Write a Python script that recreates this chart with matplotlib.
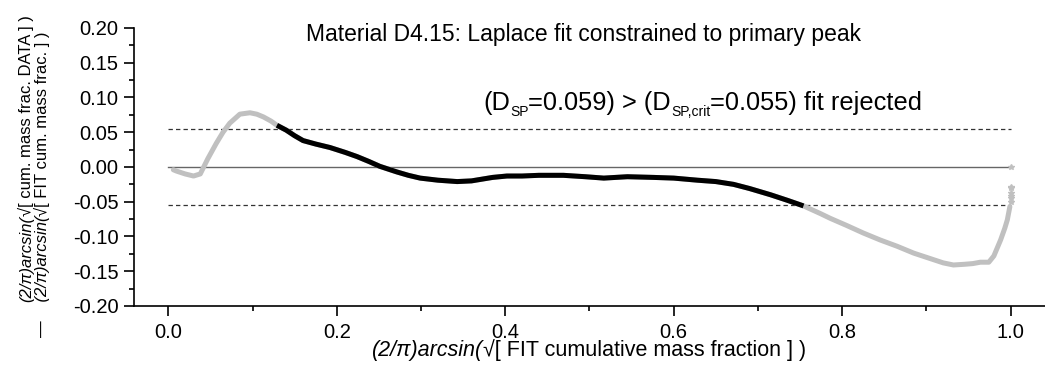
import numpy as np
import matplotlib
matplotlib.use('Agg')
import matplotlib.pyplot as plt
from matplotlib.ticker import MultipleLocator, FormatStrFormatter

# Data: residual curve along the x axis
x_res = [0.006, 0.010, 0.020, 0.030, 0.038, 0.047, 0.057, 0.065, 0.073, 0.085,
         0.097, 0.105, 0.113, 0.122, 0.129, 0.140, 0.150, 0.160, 0.175, 0.192,
         0.210, 0.224, 0.238, 0.251, 0.271, 0.285, 0.299, 0.320, 0.343, 0.360,
         0.370, 0.385, 0.402, 0.420, 0.440, 0.469, 0.495, 0.517, 0.545, 0.576,
         0.600, 0.628, 0.650, 0.671, 0.690, 0.715, 0.735, 0.754, 0.774, 0.786,
         0.805, 0.825, 0.845, 0.865, 0.885, 0.905, 0.920, 0.932, 0.945, 0.955,
         0.964, 0.974, 0.980, 0.988, 0.993, 0.996, 0.999]
y_res = [-0.004, -0.006, -0.010, -0.013, -0.010, 0.012, 0.034, 0.050, 0.063, 0.076,
         0.078, 0.076, 0.072, 0.066, 0.060, 0.053, 0.045, 0.038, 0.033, 0.028,
         0.021, 0.015, 0.008, 0.001, -0.007, -0.012, -0.016, -0.019, -0.021, -0.020,
         -0.018, -0.015, -0.013, -0.013, -0.012, -0.012, -0.014, -0.016, -0.014, -0.015,
         -0.016, -0.019, -0.021, -0.025, -0.031, -0.040, -0.048, -0.056, -0.067, -0.074,
         -0.084, -0.095, -0.105, -0.114, -0.124, -0.132, -0.138, -0.141, -0.140, -0.139,
         -0.137, -0.137, -0.128, -0.105, -0.088, -0.076, -0.057]
# loose points at the upper end
x_end = [1.0, 1.0, 1.0, 1.0, 1.0, 1.0, 1.0]
y_end = [-0.051, -0.045, -0.042, -0.038, -0.030, -0.029, 0.0]

fit_lo, fit_hi = 0.129, 0.754
d_crit = 0.055
d_sp = 0.059

plt.rcParams['font.family'] = 'Liberation Sans'

W, H = 1045, 370
fig = plt.figure(figsize=[W / 100, H / 100], dpi=100)
ax = fig.add_axes([0.1282, 0.1730, 0.8718, 0.7514])

x_res = np.array(x_res)
y_res = np.array(y_res)
fit = (x_res >= fit_lo) & (x_res <= fit_hi)

ax.plot([0, 1], [0, 0], color='#666666', lw=1.0, zorder=1)
ax.plot([0, 1], [d_crit, d_crit], color='#333333', lw=0.9, ls=(0, (3.5, 2.5)), zorder=1)
ax.plot([0, 1], [-d_crit, -d_crit], color='#333333', lw=0.9, ls=(0, (3.5, 2.5)), zorder=1)

ax.plot(x_res, y_res, color='#c0c0c0', lw=3.6, solid_capstyle='round', zorder=2)
ax.plot(x_end, y_end, ls='none', marker='*', ms=4, color='#c0c0c0', zorder=2)
ax.plot(x_res[fit], y_res[fit], color='black', lw=3.6, solid_capstyle='butt', zorder=3)

ax.set_xlim(-0.0407, 1.0407)
ax.set_ylim(-0.20, 0.20)
ax.spines['top'].set_visible(False)
ax.spines['right'].set_visible(False)
ax.spines['left'].set_linewidth(1.2)
ax.spines['bottom'].set_linewidth(1.2)
ax.xaxis.set_major_locator(MultipleLocator(0.2))
ax.xaxis.set_minor_locator(MultipleLocator(0.1))
ax.yaxis.set_major_locator(MultipleLocator(0.05))
ax.yaxis.set_minor_locator(MultipleLocator(0.025))
ax.xaxis.set_major_formatter(FormatStrFormatter('%.1f'))
ax.yaxis.set_major_formatter(FormatStrFormatter('%.2f'))
ax.tick_params(which='major', direction='out', length=7, width=1.2, labelsize=14.5)
ax.tick_params(which='minor', direction='out', length=3.5, width=1.2)
ax.tick_params(axis='x', pad=5)
ax.tick_params(axis='y', pad=4)

renderer = fig.canvas.get_renderer()


def seg_text(x0, y0, segs, vertical=False, align='left'):
    # draw a run of text pieces (text, size, style, dy) one after another,
    # x0/y0 in pixels from the top-left corner, at the baseline
    texts = []
    widths = []
    for s, size, style, dy in segs:
        t = fig.text(0, 0, s, fontsize=size, fontstyle=style,
                     ha='left', va='baseline', rotation_mode='anchor')
        widths.append(t.get_window_extent(renderer).width)
        t.set_rotation(90 if vertical else 0)
        texts.append((t, dy))
    total = sum(widths)
    start = {'left': 0, 'center': -total / 2, 'right': -total}[align]
    pos = start
    for (t, dy), w in zip(texts, widths):
        if vertical:
            # text runs upwards, baseline on the right side
            t.set_position(((x0 + dy) / W, (H - y0 + pos) / H))
        else:
            t.set_position(((x0 + pos) / W, (H - y0 - dy) / H))
        pos += w


fig.text(583 / W, 1 - 40.5 / H, 'Material D4.15: Laplace fit constrained to primary peak',
         fontsize=16.5, ha='center', va='baseline')

big, small = 18.3, 10
seg_text(483, 110, [('(D', big, 'normal', 0),
                    ('SP', small, 'normal', 6.5),
                    ('=%.3f) > (D' % d_sp, big, 'normal', 0),
                    ('SP,crit', small, 'normal', 6.5),
                    ('=%.3f) fit rejected' % d_crit, big, 'normal', 0)])

seg_text(589, 356, [('(2/π)arcsin(', 15.5, 'italic', 0),
                    ('√[ FIT cumulative mass fraction ] )', 15.5, 'normal', 0)],
         align='center')

# y label, written bottom to top: start = bottom end (in pixels from top)
seg_text(31, 302, [('(2/π)arcsin(', 12, 'italic', 0),
                   ('√[ cum. mass frac. DATA ] )', 12, 'normal', 0)],
         vertical=True)
seg_text(47, 337, [('—', 12, 'normal', 0),
                   ('    (2/π)arcsin(', 12, 'italic', 0),
                   ('√[ FIT cum. mass frac. ] )', 12, 'normal', 0)],
         vertical=True)

plt.savefig('out.png', dpi=100)
